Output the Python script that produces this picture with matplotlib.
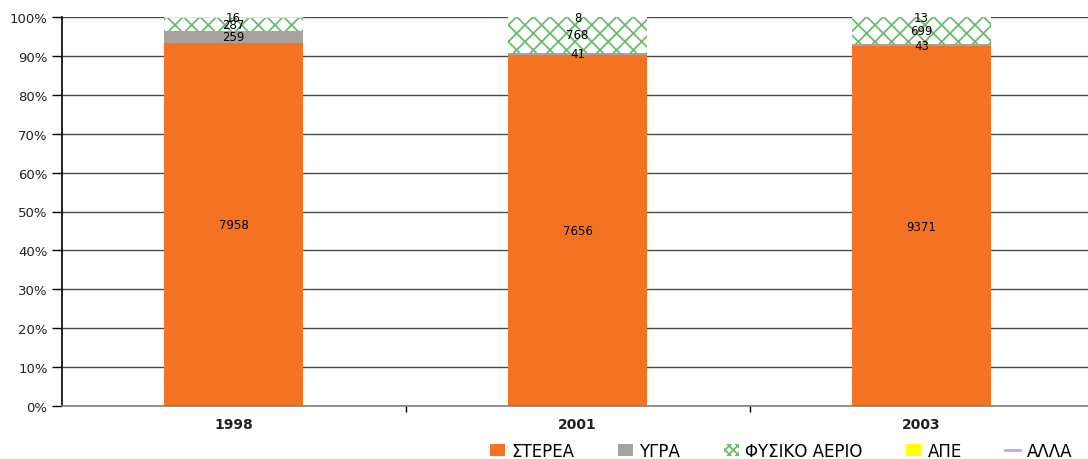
import matplotlib
matplotlib.use("Agg")
import matplotlib.pyplot as plt
from matplotlib.patches import Patch
from matplotlib.lines import Line2D
import numpy as np

plt.rcParams['font.family'] = ['DejaVu Sans']
plt.rcParams['hatch.linewidth'] = 1.3

years = ["1998", "2001", "2003"]
series_names = ["ΣΤΕΡΕΑ", "ΥΓΡΑ", "ΦΥΣΙΚΟ ΑΕΡΙΟ", "ΑΠΕ", "ΑΛΛΑ"]
stereа = [7958, 7656, 9371]
ygra = [259, 41, 43]
fysiko_aerio = [287, 768, 699]
ape = [16, 0, 0]
alla = [0, 8, 13]

series = [stereа, ygra, fysiko_aerio, ape, alla]
colors = ["#F47322", "#A8A29C", "white", "#FFFF00", "#D79CF2"]
gas_green = "#6DBA6D"

fig = plt.figure(figsize=(10.88, 4.6), dpi=100)
ax = fig.add_axes([61.5/1088, 53/460, 1032/1088, 389/460])

data = np.array(series, dtype=float)
totals = data.sum(axis=0)
pct = data / totals * 100
x = np.arange(len(years))
bottom = np.zeros(len(years))
width = 0.405

ax.set_axisbelow(True)
ax.yaxis.grid(True, color="#4a4a4a", linewidth=1.0)
for i, name in enumerate(series_names):
    if name == "ΦΥΣΙΚΟ ΑΕΡΙΟ":
        ax.bar(x, pct[i], width, bottom=bottom, color="white",
               edgecolor=gas_green, linewidth=0, hatch="xx", zorder=3)
    else:
        ax.bar(x, pct[i], width, bottom=bottom, color=colors[i],
               linewidth=0, zorder=3)
    for j in range(len(years)):
        if data[i, j] > 0:
            ax.text(x[j], bottom[j] + pct[i, j] / 2, f"{int(data[i, j])}",
                    ha="center", va="center", fontsize=8.5, color="black", zorder=5)
    bottom += pct[i]

ax.set_xlim(-0.5, 2.5)
ax.set_ylim(0, 100)
ax.set_yticks(np.arange(0, 101, 10))
ax.set_yticklabels([f"{v}%" for v in range(0, 101, 10)], fontsize=9.5, color="#222222")
ax.set_xticks(x)
ax.set_xticklabels(years, fontsize=10, fontweight="bold", color="#222222")
ax.tick_params(axis="x", which="major", length=0, pad=8)
ax.set_xticks([0.5, 1.5], minor=True)
ax.tick_params(axis="x", which="minor", length=4, color="black", width=1)
ax.tick_params(axis="y", length=7, color="black", width=1, pad=3)

for s in ["top", "right"]:
    ax.spines[s].set_visible(False)
ax.spines["left"].set_color("black")
ax.spines["left"].set_linewidth(1.2)
ax.spines["bottom"].set_color("#7f7f7f")
ax.spines["bottom"].set_linewidth(1.2)
ax.spines["bottom"].set_zorder(4)

handles = [
    Patch(facecolor=colors[0], edgecolor="none"),
    Patch(facecolor=colors[1], edgecolor="none"),
    Patch(facecolor="white", edgecolor=gas_green, linewidth=0, hatch="xxxx"),
    Patch(facecolor=colors[3], edgecolor="none"),
    Line2D([0], [0], color=colors[4], linewidth=2),
]
fig.legend(handles, series_names, loc="center", bbox_to_anchor=(0.718, 0.018),
           ncol=5, frameon=False, fontsize=12, handlelength=0.9,
           handleheight=0.8, handletextpad=0.4, columnspacing=2.6)

fig.savefig("out.png", dpi=100)
